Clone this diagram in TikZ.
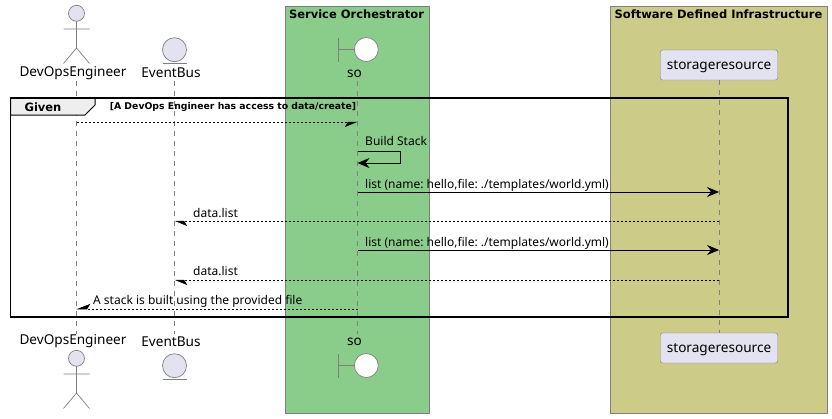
\documentclass[tikz,border=0pt]{standalone}
\usepackage{fontspec}
\usepackage{tikz}
\usetikzlibrary{arrows.meta}
\setmainfont{Noto Sans}
\newfontfamily\boldsans{DejaVu Sans}
\frenchspacing

\definecolor{partfill}{HTML}{E2E2F0}
\definecolor{partline}{HTML}{7F7F7F}
\definecolor{sogreen}{HTML}{8ACD8A}
\definecolor{sdiyellow}{HTML}{CCCC88}
\definecolor{tabfill}{HTML}{EEEEEE}

\tikzset{
  x=1pt, y=-1pt,
  boxgroup/.style={draw=partline, line width=0.7pt},
  boxtitle/.style={font=\boldsans\bfseries\fontsize{11.5}{14}\selectfont, inner sep=0pt},
  guardtitle/.style={font=\boldsans\bfseries\fontsize{9.3}{12}\selectfont, inner sep=0pt},
  parttext/.style={font=\fontsize{13.6}{16}\selectfont, inner sep=0pt},
  partbox/.style={parttext, draw=partline, fill=partfill, rounded corners=2.5pt, minimum width=117.5pt, minimum height=30pt, text height=10pt, text depth=2pt},
  msgtext/.style={font=\fontsize{12}{15}\selectfont, inner sep=0pt, anchor=base west},
  lifeline/.style={draw=partline, line width=0.6pt, dash pattern=on 5pt off 5pt},
  figline/.style={draw=partline, line width=0.7pt},
  replymsg/.style={draw=black, line width=0.5pt, dash pattern=on 2pt off 2pt},
  callmsg/.style={draw=black, line width=0.7pt, -{Stealth[length=12pt,width=10pt,inset=4pt]}},
  headbelowr/.style={-{Stealth[harpoon,right,length=12pt,width=10pt,inset=3pt]}},
  headbelowl/.style={-{Stealth[harpoon,left,length=12pt,width=10pt,inset=3pt]}},
  headabovel/.style={-{Stealth[harpoon,right,length=13pt,width=10pt,inset=3pt]}},
}

\begin{document}
\begin{tikzpicture}
  \useasboundingbox (0,0) rectangle (832,418);

  % boxes
  \draw[boxgroup, fill=sogreen] (285.5,6) rectangle (429.5,413);
  \draw[boxgroup, fill=sdiyellow] (610.5,6) rectangle (827,413);
  \node[boxtitle] (sotitle) at (356.5,14) {Service Orchestrator};
  \node[boxtitle] (sdititle) at (718.5,14) {Software Defined Infrastructure};

  % names
  \node[parttext] (devtop) at (73,73) {DevOpsEngineer};
  \node[parttext] (bustop) at (171,73) {EventBus};
  \node[parttext] (sotop) at (354.5,73.5) {so};
  \node[parttext] (devbot) at (73,341.5) {DevOpsEngineer};
  \node[parttext] (busbot) at (171,341.5) {EventBus};
  \node[parttext] (sobot) at (354.5,342) {so};
  \node[partbox] (stotop) at (719,65) {storageresource};
  \node[partbox] (stobot) at (719,348) {storageresource};

  % lifelines
  \coordinate (devup) at (76.5,81);
  \coordinate (devdn) at (76.5,334);
  \coordinate (busup) at (174.5,81);
  \coordinate (busdn) at (174.5,334);
  \coordinate (soup) at (357.5,81);
  \coordinate (sodn) at (357.5,334);
  \draw[lifeline] (devup) -- (devdn);
  \draw[lifeline] (busup) -- (busdn);
  \draw[lifeline] (soup) -- (sodn);
  \draw[lifeline] (stotop) -- (stobot);

  % figures
  \foreach \yy in {0,345} {
    \draw[figline, fill=partfill] (76.5,13.3+\yy) circle (8pt);
    \draw[figline] (76.5,21.3+\yy) -- (76.5,48+\yy)
      (63.5,29+\yy) -- (89.5,29+\yy)
      (63.5,63.5+\yy) -- (76.5,48+\yy) -- (89.5,63.5+\yy);
  }
  \foreach \yy in {0,316} {
    \draw[figline, fill=partfill] (174.5,49.7+\yy) circle (12pt);
    \draw[figline] (162.5,63+\yy) -- (186.5,63+\yy);
    \draw[figline, fill=white] (366.3,49.5+\yy) circle (12pt);
    \draw[figline] (338,37.5+\yy) -- (338,61.5+\yy) (338,49.5+\yy) -- (354.3,49.5+\yy);
  }

  % frame
  \draw[black, line width=1.6pt] (10.5,98) rectangle (788,317);
  \draw[black, line width=1pt, fill=tabfill] (10.5,98) -- (95,98) -- (95,105) -- (85,115) -- (10.5,115) -- cycle;
  \draw[black, line width=1.6pt] (10.5,98) -- (788,98);
  \node[boxtitle] (givenlabel) at (43,107) {Given};
  \node[guardtitle] (guardlabel) at (233,107) {[A DevOps Engineer has access to data/create]};

  % rows
  \coordinate (rowa) at (0,122);
  \coordinate (rowc) at (0,192);
  \coordinate (rowd) at (0,221);
  \coordinate (rowe) at (0,250);
  \coordinate (rowf) at (0,280);
  \coordinate (rowg) at (0,309);

  % messages
  \draw[replymsg, headbelowr] (devup |- rowa) -- (soup |- rowa);
  \draw[callmsg] (soup |- rowc) -- (stotop |- rowc);
  \draw[callmsg] (soup |- rowe) -- (stotop |- rowe);
  \draw[replymsg, headbelowl] (stotop |- rowd) -- (busup |- rowd);
  \draw[replymsg, headbelowl] (stotop |- rowf) -- (busup |- rowf);
  \draw[replymsg, headabovel] (soup |- rowg) -- (devup |- rowg);
  \draw[callmsg] (soup |- 0,151) -- (400,151) -- (400,163) -- (soup |- 0,163);

  \node[msgtext] (buildmsg) at (365,145) {Build Stack};
  \node[msgtext] (listone) at (365,188) {list (name: hello,file: ./templates/world.yml)};
  \node[msgtext] (listtwo) at (365,246) {list (name: hello,file: ./templates/world.yml)};
  \node[msgtext] (dataone) at (193,217) {data.list};
  \node[msgtext] (datatwo) at (193,275) {data.list};
  \node[msgtext] (stackmsg) at (93,304) {A stack is built using the provided file};
\end{tikzpicture}
\end{document}
